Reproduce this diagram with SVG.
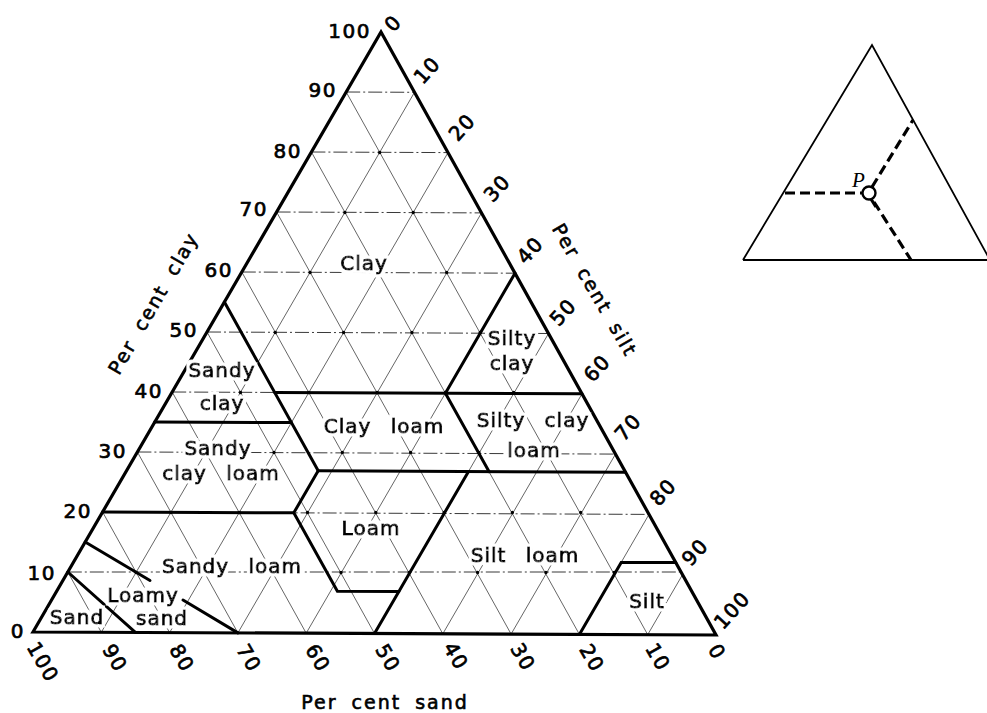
<svg xmlns="http://www.w3.org/2000/svg" width="987" height="713" viewBox="0 0 987 713">
  <defs>
    <!-- white knock-out around class names so the grid breaks behind them -->
    <filter id="halo" x="-15%" y="-40%" width="130%" height="180%">
      <feMorphology in="SourceAlpha" operator="dilate" radius="3" result="grown"/>
      <feFlood flood-color="#fff"/>
      <feComposite in2="grown" operator="in" result="knock"/>
      <feMerge><feMergeNode in="knock"/><feMergeNode in="SourceGraphic"/></feMerge>
    </filter>
  </defs>
  <style>
    .gh { stroke:#222; stroke-width:0.9; stroke-dasharray:14 3 2 3; fill:none }
    .gd { stroke:#333; stroke-width:0.75; fill:none }
    .dots { stroke:#000; stroke-width:3.4; stroke-linecap:round; fill:none }
    .bound { stroke:#000; stroke-width:3; fill:none; stroke-linejoin:miter; stroke-linecap:round }
    .frame { stroke:#000; stroke-width:3.2; fill:none; stroke-linejoin:miter }
    .num { font-family:"DejaVu Sans", sans-serif; font-size:20px; letter-spacing:1.5px; fill:#000; stroke:#000; stroke-width:0.7 }
    .numc { font-family:"DejaVu Sans", sans-serif; font-size:20px; letter-spacing:1.5px; fill:#000; stroke:#000; stroke-width:0.7; text-anchor:middle; dominant-baseline:central }
    .region text { font-family:"DejaVu Sans", sans-serif; font-size:20px; letter-spacing:1px; word-spacing:12px; fill:#000; stroke:#000; stroke-width:1; text-anchor:middle }
    .region { filter:url(#halo) }
    .axis { font-family:"DejaVu Sans", sans-serif; font-size:19px; letter-spacing:2px; word-spacing:6px; fill:#000; stroke:#000; stroke-width:0.6; text-anchor:middle }
    .inset { stroke:#000; stroke-width:1.8; fill:none; stroke-linejoin:miter }
    .idash { stroke:#000; stroke-width:3.2; stroke-dasharray:10 5; fill:none }
  </style>

  <rect width="987" height="713" fill="#fff"/>

  <!-- 10 % grid: clay (horizontal), silt and sand (diagonal) -->
  <g id="grid">
    <path class="gh" d="M67.8 572H682.5M102.6 512L649 514.4M137.4 452L615.5 454.1M172.2 392L582 393.8M207 332L548.5 333.5M241.8 272L515 273.2M276.6 212L481.5 212.9M311.4 152L448 152.6M346.2 92L414.5 92.3"/>
    <path class="gd" d="M101.3 632.3L414.5 92.3M169.6 632.6L448 152.6M237.9 632.9L481.5 212.9M306.2 633.2L515 273.2M374.5 633.5L548.5 333.5M442.8 633.8L582 393.8M511.1 634.1L615.5 454.1M579.4 634.4L649 514.4M647.7 634.7L682.5 574.7"/>
    <path class="gd" d="M647.7 634.7L346.2 92M579.4 634.4L311.4 152M511.1 634.1L276.6 212M442.8 633.8L241.8 272M374.5 633.5L207 332M306.2 633.2L172.2 392M237.9 632.9L137.4 452M169.6 632.6L102.6 512M101.3 632.3L67.8 572"/>
    <path class="dots" d="M136.1 572.5h0M204.4 572.5h0M272.7 572.5h0M341 572.5h0M409.3 572.5h0M477.6 572.5h0M545.9 572.5h0M614.2 572.5h0
      M170.9 512.5h0M239.2 512.5h0M307.5 512.5h0M375.8 512.5h0M444.1 512.5h0M512.4 512.5h0M580.7 512.5h0
      M205.7 452.5h0M274 452.5h0M342.3 452.5h0M410.6 452.5h0M478.9 452.5h0M547.2 452.5h0
      M240.5 392.5h0M308.8 392.5h0M377.1 392.5h0M445.4 392.5h0M513.7 392.5h0
      M275.3 332.5h0M343.6 332.5h0M411.9 332.5h0M480.2 332.5h0
      M310.1 272.5h0M378.4 272.5h0M446.7 272.5h0
      M344.9 212.5h0M413.2 212.5h0
      M379.7 152.5h0"/>
  </g>

  <!-- texture class boundaries -->
  <g id="boundaries">
    <path class="frame" d="M33 632L381 32L716 635Z"/>
    <path class="bound" d="M224.4 302L318.2 470.8"/>
    <path class="bound" d="M154.8 422L291.4 422.6"/>
    <path class="bound" d="M274.6 392.4L582 393.8"/>
    <path class="bound" d="M515 273.2L445.4 393.2L489 471.6"/>
    <path class="bound" d="M318.2 470.8L625.6 472.2"/>
    <path class="bound" d="M318.2 470.8L293.8 512.8L337.4 591.2L398.9 591.5"/>
    <path class="bound" d="M102.6 512L293.8 512.8"/>
    <path class="bound" d="M468.5 471.5L374.5 633.5"/>
    <path class="bound" d="M85.2 542L150 580.5M183 600L237.9 632.9"/>
    <path class="bound" d="M67.8 572L135.4 632.4"/>
    <path class="bound" d="M579.4 634.4L621.2 562.4L675.8 562.6"/>
  </g>

  <!-- per cent clay scale -->
  <g id="clay-scale" class="num" text-anchor="end">
    <text x="371" y="38">100</text>
    <text x="337" y="97">90</text>
    <text x="302" y="158">80</text>
    <text x="268" y="216">70</text>
    <text x="233" y="277">60</text>
    <text x="198" y="337">50</text>
    <text x="163" y="398">40</text>
    <text x="127" y="458">30</text>
    <text x="92" y="518">20</text>
    <text x="56" y="580">10</text>
    <text x="25" y="638">0</text>
  </g>

  <!-- per cent silt scale -->
  <g id="silt-scale" class="numc">
    <text transform="translate(393 23) rotate(-48)">0</text>
    <text transform="translate(427 70) rotate(-48)">10</text>
    <text transform="translate(462 127) rotate(-48)">20</text>
    <text transform="translate(497 188) rotate(-48)">30</text>
    <text transform="translate(530 250) rotate(-48)">40</text>
    <text transform="translate(563 312) rotate(-48)">50</text>
    <text transform="translate(597 368) rotate(-48)">60</text>
    <text transform="translate(628 427) rotate(-48)">70</text>
    <text transform="translate(663 492) rotate(-48)">80</text>
    <text transform="translate(695 552) rotate(-48)">90</text>
    <text transform="translate(732 610) rotate(-48)">100</text>
  </g>

  <!-- per cent sand scale -->
  <g id="sand-scale" class="numc">
    <text transform="translate(43 662) rotate(60)">100</text>
    <text transform="translate(115 658) rotate(60)">90</text>
    <text transform="translate(182 658) rotate(60)">80</text>
    <text transform="translate(249 658) rotate(60)">70</text>
    <text transform="translate(318 658) rotate(60)">60</text>
    <text transform="translate(388 658) rotate(60)">50</text>
    <text transform="translate(456 656) rotate(60)">40</text>
    <text transform="translate(523 657) rotate(60)">30</text>
    <text transform="translate(592 658) rotate(60)">20</text>
    <text transform="translate(658 657) rotate(60)">10</text>
    <text transform="translate(717 652) rotate(60)">0</text>
  </g>

  <!-- axis titles -->
  <g id="axis-titles" class="axis">
    <text transform="translate(153 303) rotate(-60)" dominant-baseline="central">Per cent clay</text>
    <text transform="translate(595 290) rotate(60)" dominant-baseline="central">Per cent silt</text>
    <text x="385" y="709">Per cent sand</text>
  </g>

  <!-- texture classes -->
  <g id="clay" class="region"><text x="364" y="270">Clay</text></g>
  <g id="silty-clay" class="region"><text x="512" y="345">Silty</text><text x="512" y="370">clay</text></g>
  <g id="sandy-clay" class="region"><text x="222" y="377">Sandy</text><text x="222" y="410">clay</text></g>
  <g id="clay-loam" class="region"><text x="384" y="433">Clay loam</text></g>
  <g id="silty-clay-loam" class="region"><text x="533" y="427">Silty clay</text><text x="534" y="457">loam</text></g>
  <g id="sandy-clay-loam" class="region"><text x="218" y="455">Sandy</text><text x="221" y="480">clay loam</text></g>
  <g id="loam" class="region"><text x="371" y="535">Loam</text></g>
  <g id="silt-loam" class="region"><text x="525" y="562">Silt loam</text></g>
  <g id="sandy-loam" class="region"><text x="232" y="573">Sandy loam</text></g>
  <g id="silt" class="region"><text x="647" y="608">Silt</text></g>
  <g id="sand" class="region"><text x="77" y="624">Sand</text></g>
  <g id="loamy-sand" class="region"><text x="143" y="602">Loamy</text><text x="162" y="625">sand</text></g>

  <!-- reading a point P on a triangular chart -->
  <g id="inset">
    <path class="inset" d="M743 260L872 45L990 260M743 260H987"/>
    <path class="idash" d="M785 193H862"/>
    <path class="idash" d="M872 187L913 120"/>
    <path class="idash" d="M874 202L911 260"/>
    <path d="M871 199L876 207" stroke="#000" stroke-width="3.2"/>
    <circle cx="869" cy="193" r="6.5" fill="#fff" stroke="#000" stroke-width="2.4"/>
    <text x="852" y="187" font-family="Liberation Serif, serif" font-style="italic" font-size="21px">P</text>
  </g>
</svg>
